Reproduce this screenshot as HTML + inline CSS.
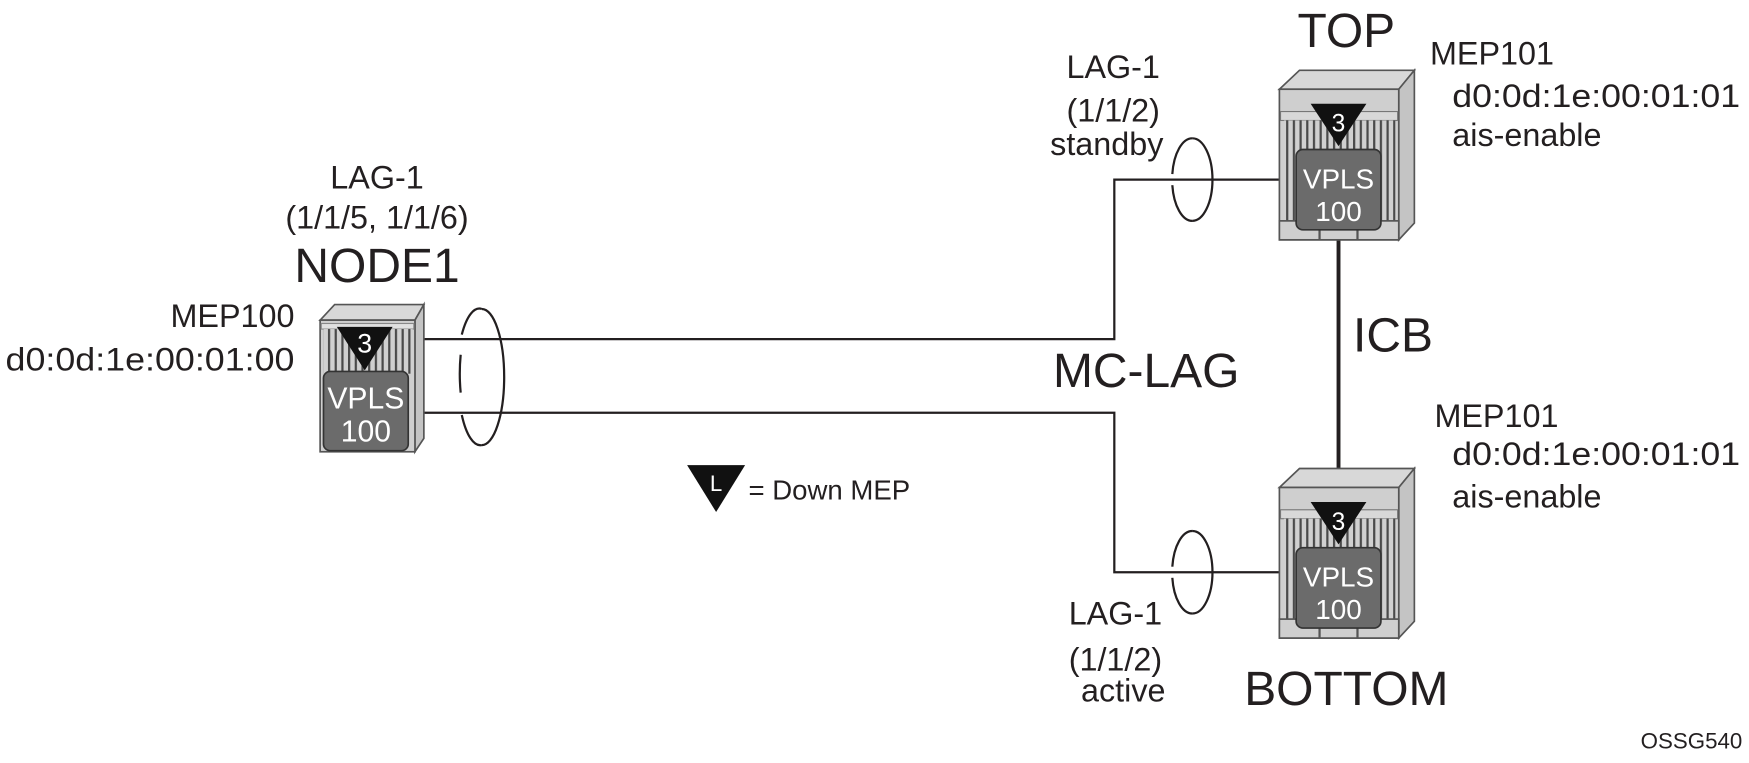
<!DOCTYPE html>
<html><head><meta charset="utf-8"><style>
html,body{margin:0;padding:0;background:#fff;}
svg{display:block;}
text{font-family:"Liberation Sans",Arial,sans-serif;fill:#231f20;}
</style></head><body>
<svg width="1749" height="763" viewBox="0 0 1568 684" preserveAspectRatio="none" xmlns="http://www.w3.org/2000/svg">
<defs>
<pattern id="st" x="0" y="0" width="6" height="10" patternUnits="userSpaceOnUse">
<rect width="6" height="10" fill="#d0d0d0"/><rect x="0" width="2" height="10" fill="#4a4a4a"/>
</pattern>
<g id="dev">
<polygon points="0,0 18,-17 121,-17 107,0" fill="#d8d8d8" stroke="#555" stroke-width="1.5"/>
<polygon points="107,0 121,-17 121,120 107,135" fill="#c4c4c4" stroke="#555" stroke-width="1.5"/>
<rect x="0" y="0" width="107" height="135" fill="#cfcfcf" stroke="#555" stroke-width="1.5"/>
<rect x="1" y="20" width="105" height="8" fill="#d8d8d8" stroke="#777" stroke-width="1"/>
<rect x="4" y="28" width="100" height="90" fill="url(#st)"/>
<rect x="0" y="118" width="107" height="17" fill="#cfcfcf" stroke="#555" stroke-width="1.5"/>
<line x1="36" y1="118" x2="36" y2="135" stroke="#555" stroke-width="2"/>
<line x1="70" y1="118" x2="70" y2="135" stroke="#555" stroke-width="2"/>
<rect x="15" y="54" width="76" height="72" rx="6" fill="#6b6b6b" stroke="#333" stroke-width="1.5"/>
<polygon points="28,13 78,13 53,51" fill="#111"/>
<text x="53" y="38" font-size="22" text-anchor="middle" style="fill:#fff">3</text>
<text x="53" y="89" font-size="25" text-anchor="middle" style="fill:#fff">VPLS</text>
<text x="53" y="118" font-size="25" text-anchor="middle" style="fill:#fff">100</text>
</g>
</defs>

<g fill="none" stroke="#231f20" stroke-width="2">
<polyline points="380,304 999,304 999,161 1147,161"/>
<polyline points="380,370 999,370 999,513 1147,513"/>
</g>
<line x1="1200" y1="215" x2="1200" y2="421" stroke="#231f20" stroke-width="3.5"/>

<!-- NODE1 device -->
<g>
<polygon points="287,287 300,273 380,273 372,287" fill="#d8d8d8" stroke="#555" stroke-width="1.5"/>
<polygon points="372,287 380,273 380,393 372,405" fill="#c4c4c4" stroke="#555" stroke-width="1.5"/>
<rect x="287" y="287" width="85" height="118" fill="#cfcfcf" stroke="#555" stroke-width="1.5"/>
<rect x="288" y="290" width="83" height="5" fill="#e0e0e0" stroke="#888" stroke-width="1"/>
<rect x="290" y="295" width="80" height="40" fill="url(#st)"/>
<rect x="290" y="333" width="76" height="71" rx="6" fill="#6b6b6b" stroke="#333" stroke-width="1.5"/>
<polygon points="302,293 352,293 327,332" fill="#111"/>
<text x="327" y="316" font-size="24" text-anchor="middle" style="fill:#fff">3</text>
<text x="328" y="366" font-size="27" text-anchor="middle" style="fill:#fff">VPLS</text>
<text x="328" y="396" font-size="27" text-anchor="middle" style="fill:#fff">100</text>
</g>

<use href="#dev" x="1147" y="80"/>
<use href="#dev" x="1147" y="437"/>

<g fill="none" stroke="#231f20" stroke-width="2">
<path d="M432,277 A20,61 0 0 1 432,399"/>
<path d="M432,399 A20,61 0 0 1 414,372"/>
<path d="M413,352 A20,61 0 0 1 413,318"/>
<path d="M414,300 A20,61 0 0 1 432,277"/>
<path d="M1069,124 A18,37 0 0 1 1069,198"/>
<path d="M1069,198 A18,37 0 0 1 1051,166"/>
<path d="M1051,156 A18,37 0 0 1 1069,124"/>
<path d="M1069,476 A18,37 0 0 1 1069,550"/>
<path d="M1069,550 A18,37 0 0 1 1051,518"/>
<path d="M1051,508 A18,37 0 0 1 1069,476"/>
</g>

<text x="338" y="169" font-size="29" text-anchor="middle">LAG-1</text>
<text x="338" y="205" font-size="29" text-anchor="middle">(1/1/5, 1/1/6)</text>
<text x="338" y="253" font-size="43" text-anchor="middle">NODE1</text>
<text x="264" y="293" font-size="29" text-anchor="end">MEP100</text>
<text x="5" y="332" font-size="29" textLength="259" lengthAdjust="spacingAndGlyphs">d0:0d:1e:00:01:00</text>

<text x="1207" y="42" font-size="43" text-anchor="middle">TOP</text>
<text x="1282" y="58" font-size="29">MEP101</text>
<text x="1302" y="96" font-size="29" textLength="258" lengthAdjust="spacingAndGlyphs">d0:0d:1e:00:01:01</text>
<text x="1302" y="131" font-size="29">ais-enable</text>
<text x="998" y="70" font-size="29" text-anchor="middle">LAG-1</text>
<text x="998" y="109" font-size="29" text-anchor="middle">(1/1/2)</text>
<text x="1043" y="139" font-size="29" text-anchor="end">standby</text>

<text x="1213" y="315" font-size="43">ICB</text>
<text x="944" y="347" font-size="43">MC-LAG</text>

<text x="1286" y="383" font-size="29">MEP101</text>
<text x="1302" y="417" font-size="29" textLength="258" lengthAdjust="spacingAndGlyphs">d0:0d:1e:00:01:01</text>
<text x="1302" y="455" font-size="29">ais-enable</text>
<text x="1000" y="560" font-size="29" text-anchor="middle">LAG-1</text>
<text x="1000" y="601" font-size="29" text-anchor="middle">(1/1/2)</text>
<text x="1007" y="629" font-size="29" text-anchor="middle">active</text>
<text x="1207" y="632" font-size="43" text-anchor="middle">BOTTOM</text>

<polygon points="616,417 668,417 642,459" fill="#111"/>
<text x="642" y="440" font-size="20" text-anchor="middle" style="fill:#fff">L</text>
<text x="671" y="448" font-size="25" textLength="145" lengthAdjust="spacingAndGlyphs">= Down MEP</text>

<text x="1562" y="671" font-size="20" text-anchor="end">OSSG540</text>
</svg>
</body></html>
